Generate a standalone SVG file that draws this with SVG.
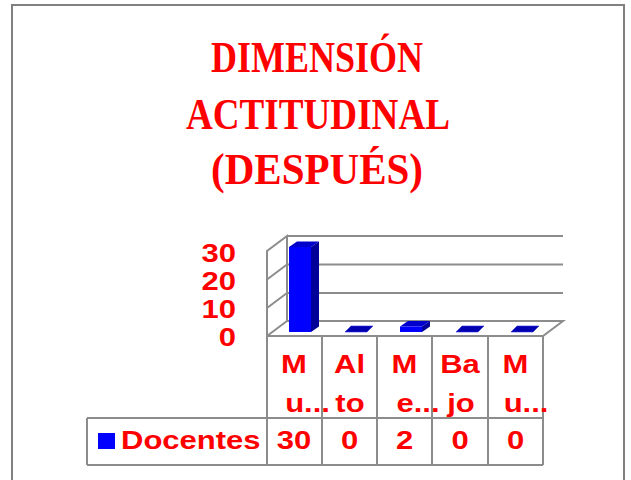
<svg xmlns="http://www.w3.org/2000/svg" width="631" height="480" viewBox="0 0 631 480">
<style>
.title{font-family:"Liberation Serif","DejaVu Serif",serif;font-weight:bold;font-size:44px;fill:#ff0000;text-anchor:middle;lengthAdjust:spacingAndGlyphs}
.t{font-family:"Liberation Sans",Arial,sans-serif;font-weight:bold;font-size:26.5px;fill:#ff0000;text-anchor:middle}
.ax{font-family:"Liberation Sans",Arial,sans-serif;font-weight:bold;font-size:26.5px;fill:#ff0000;text-anchor:end}
.ln{stroke:#8c8c8c;stroke-width:2;fill:none}
.front{fill:#0000ff}
.top{fill:#0000cc}
.side{fill:#000099}
.flat{fill:#0000b0;stroke:#3030e0;stroke-width:0.6}
</style>
<rect id="frame" x="12" y="5" width="612" height="490" fill="#ffffff" stroke="#808080" stroke-width="2"/>
<g id="title">
<text class="title" x="317" y="72" textLength="212" lengthAdjust="spacingAndGlyphs">DIMENSIÓN</text>
<text class="title" x="318" y="129" textLength="264" lengthAdjust="spacingAndGlyphs">ACTITUDINAL</text>
<text class="title" x="317" y="184" textLength="212" lengthAdjust="spacingAndGlyphs">(DESPUÉS)</text>
</g>
<g id="axes">
<path class="ln" d="M287,236 H563 M287,264.5 H563 M287,293 H563 M287,321 H563 L543,336 H267 V251 L287,236 V321 M267,279.5 L287,264.5 M267,308 L287,293 M267,336 L287,321"/>
</g>
<g id="yaxis-labels">
<text class="ax" transform="translate(236,262) scale(1.17,1)">30</text>
<text class="ax" transform="translate(236,290) scale(1.17,1)">20</text>
<text class="ax" transform="translate(236,318) scale(1.17,1)">10</text>
<text class="ax" transform="translate(236,346) scale(1.17,1)">0</text>
</g>
<g id="bar-1">
<polygon class="side" points="311,247 319,241.5 319,326.5 311,332"/>
<polygon class="top" points="289,247 297,241.5 319,241.5 311,247"/>
<rect class="front" x="289" y="247" width="22" height="85"/>
</g>
<g id="bar-2">
<polygon class="flat" points="345,332 367,332 373,326 351,326"/>
</g>
<g id="bar-3">
<polygon class="side" points="422,326.5 430,321 430,326.5 422,332"/>
<polygon class="top" points="400,326.5 408,321 430,321 422,326.5"/>
<rect class="front" x="400" y="326.5" width="22" height="5.5"/>
</g>
<g id="bar-4">
<polygon class="flat" points="456,332 478,332 484,326 462,326"/>
</g>
<g id="bar-5">
<polygon class="flat" points="511,332 533,332 539,326 517,326"/>
</g>
<g id="data-table">
<path class="ln" d="M267,336 V465 M322,336 V465 M377,336 V465 M432,336 V465 M488,336 V465 M543,336 V465 M87,418 H543 M87,465 H543 M87,418 V465"/>
<text class="t" transform="translate(294,373) scale(1.17,1)">M</text>
<text class="t" transform="translate(307.5,412) scale(1.17,1)">u...</text>
<text class="t" transform="translate(349.5,373) scale(1.17,1)">Al</text>
<text class="t" transform="translate(350,412) scale(1.17,1)">to</text>
<text class="t" transform="translate(404.5,373) scale(1.17,1)">M</text>
<text class="t" transform="translate(418,412) scale(1.17,1)">e...</text>
<text class="t" transform="translate(460,373) scale(1.17,1)">Ba</text>
<text class="t" transform="translate(461,412) scale(1.17,1)">jo</text>
<text class="t" transform="translate(515.5,373) scale(1.17,1)">M</text>
<text class="t" transform="translate(526,412) scale(1.17,1)">u...</text>
<rect x="98" y="433" width="17" height="16" fill="#0000ff"/>
<text class="t" transform="translate(121,449) scale(1.17,1)" style="text-anchor:start">Docentes</text>
<text class="t" transform="translate(294,449) scale(1.17,1)">30</text>
<text class="t" transform="translate(349.5,449) scale(1.17,1)">0</text>
<text class="t" transform="translate(404.5,449) scale(1.17,1)">2</text>
<text class="t" transform="translate(460,449) scale(1.17,1)">0</text>
<text class="t" transform="translate(515.5,449) scale(1.17,1)">0</text>
</g>
</svg>
